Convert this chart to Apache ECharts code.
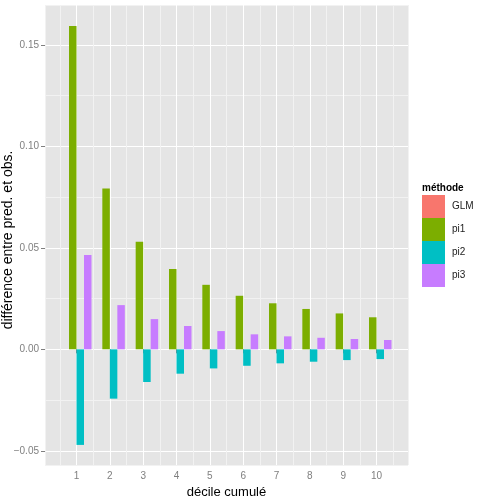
<!DOCTYPE html>
<html><head><meta charset="utf-8">
<script src="https://cdn.jsdelivr.net/npm/echarts@6/dist/echarts.min.js"></script>
<style>html,body{margin:0;padding:0;background:#fff}#c{width:479px;height:501px}</style>
</head><body><div id="c"></div>
<script>
const deciles = [1,2,3,4,5,6,7,8,9,10];
const seriesNames = ['GLM','pi1','pi2','pi3'];
const glm = [0,0,0,0,0,0,0,0,0,0];
const pi1 = [0.1594,0.0793,0.0530,0.0396,0.0318,0.0264,0.0227,0.0199,0.0177,0.0158];
const pi2 = [-0.0471,-0.0243,-0.0161,-0.0120,-0.0094,-0.0081,-0.0069,-0.0061,-0.0053,-0.0048];
const pi3 = [0.0465,0.0218,0.0149,0.0115,0.0090,0.0074,0.0064,0.0057,0.0051,0.0046];
const colors = ['#F8766D','#7CAE00','#00BFC4','#C77CFF'];
const xMin = 0.055, xMax = 10.945, yMin = -0.057, yMax = 0.1697;
const FONT = 'Liberation Sans, Arial, sans-serif';

const chart = echarts.init(document.getElementById('c'));
const all = [glm, pi1, pi2, pi3];
const series = seriesNames.map((n, i) => ({
  name: n, type: 'bar', xAxisIndex: 0, yAxisIndex: 0,
  data: deciles.map((d, j) => [d, all[i][j]]),
  itemStyle: {color: colors[i]},
  barGap: '0%', barCategoryGap: '10%',
  emphasis: {disabled: true}
}));
chart.setOption({
  animation: false,
  textStyle: {fontFamily: FONT},
  grid: {left: 45, top: 5, right: 71, bottom: 36, show: true, backgroundColor: '#E5E5E5', borderWidth: 0,
    containLabel: false, outerBoundsMode: 'none'},
  legend: {
    data: seriesNames, orient: 'vertical', left: 422, top: 195, padding: 0,
    itemWidth: 23, itemHeight: 23, itemGap: 0, icon: 'rect',
    textStyle: {fontSize: 10, color: '#222', fontFamily: FONT, padding: [0, 0, 0, 2]}
  },
  graphic: [
    {type: 'text', left: 422, top: 183, style: {text: 'méthode', font: 'bold 10px ' + FONT, fill: '#000'}},
    {type: 'text', x: 8, y: 240, rotation: Math.PI / 2,
      style: {text: 'différence entre pred. et obs.', font: '14px ' + FONT, fill: '#000', align: 'center', verticalAlign: 'middle'}}
  ],
  xAxis: [{
    type: 'value', min: xMin, max: xMax, splitNumber: 10,
    name: 'décile cumulé', nameLocation: 'middle', nameGap: 18,
    nameTextStyle: {fontSize: 13, color: '#000'},
    axisLine: {show: false},
    axisTick: {show: true, length: 4, lineStyle: {color: '#7F7F7F'}},
    axisLabel: {showMinLabel: false, showMaxLabel: false, color: '#7F7F7F', fontSize: 10, margin: 6},
    splitLine: {show: true, lineStyle: {color: '#FFFFFF', width: 1}}
  }, {
    type: 'value', min: xMin + 0.5, max: xMax + 0.5, splitNumber: 10, show: true, position: 'bottom',
    axisLine: {show: false}, axisTick: {show: false}, axisLabel: {show: false},
    splitLine: {show: true, lineStyle: {color: '#F2F2F2', width: 1}}
  }],
  yAxis: [{
    type: 'value', min: yMin, max: yMax, splitNumber: 5,
    axisLine: {show: false},
    axisTick: {show: true, length: 4, lineStyle: {color: '#7F7F7F'}},
    axisLabel: {showMinLabel: false, showMaxLabel: false, color: '#7F7F7F', fontSize: 10, margin: 6,
      formatter: v => v.toFixed(2).replace('-', '\u2212')},
    splitLine: {show: true, lineStyle: {color: '#FFFFFF', width: 1}}
  }, {
    type: 'value', min: yMin + 0.025, max: yMax + 0.025, splitNumber: 5, position: 'left',
    axisLine: {show: false}, axisTick: {show: false}, axisLabel: {show: false},
    splitLine: {show: true, lineStyle: {color: '#F2F2F2', width: 1}}
  }],
  series: series
});
</script></body></html>
